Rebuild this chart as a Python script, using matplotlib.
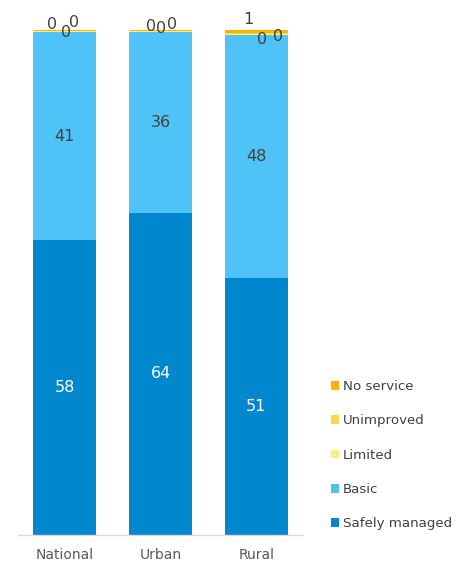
import matplotlib
matplotlib.use("Agg")
import matplotlib.pyplot as plt
import numpy as np

categories = ["National", "Urban", "Rural"]
safely_managed = [58.4, 63.8, 50.9]
basic = [41.2, 35.9, 48.2]
limited = [0.2, 0.1, 0.1]
unimproved = [0.1, 0.1, 0.2]
no_service = [0.1, 0.1, 0.6]

series = [
    ("Safely managed", safely_managed, "#0087CE", "white"),
    ("Basic", basic, "#4FC3F7", "#404040"),
    ("Limited", limited, "#FFF176", "#404040"),
    ("Unimproved", unimproved, "#FFD54F", "#404040"),
    ("No service", no_service, "#FFB300", "#404040"),
]

# manual nudges (points) for the crowded small labels at the top
small_offsets = {
    "Limited": [(-9.4, 5), (-6.5, 3.6), (4.3, -3.6)],
    "Unimproved": [(0.7, -1.4), (0.7, 1.4), (16, -2)],
    "No service": [(6.5, 5.8), (8, 4.3), (-5.8, 8.6)],
}

fig = plt.figure(figsize=(4.66, 5.67), dpi=100)
fig.set_facecolor("white")
ax = fig.add_axes([18 / 466, 32 / 567, 285 / 466, 505 / 567])

x = np.arange(len(categories))
bottom = np.zeros(len(categories))
handles = []
for name, vals, color, tcolor in series:
    vals = np.array(vals, dtype=float)
    bars = ax.bar(x, vals, 0.66, bottom=bottom, color=color, label=name)
    handles.append(bars)
    for i, v in enumerate(vals):
        yc = bottom[i] + v / 2
        if name in small_offsets:
            dx, dy = small_offsets[name][i]
        else:
            dx, dy = 0, 0
        ax.annotate(f"{v:.0f}", (x[i], yc), xytext=(dx, dy),
                    textcoords="offset points", ha="center", va="center",
                    fontsize=11.5, color=tcolor, annotation_clip=False)
    bottom += vals

ax.set_xlim(-0.49, 2.49)
ax.set_ylim(0, 100)
ax.set_xticks(x)
ax.set_xticklabels(categories, fontsize=10, color="#595959")
ax.tick_params(axis="x", length=0, pad=9.5)
ax.set_yticks([])
for s in ["top", "right", "left"]:
    ax.spines[s].set_visible(False)
ax.spines["bottom"].set_color("#d9d9d9")
ax.spines["bottom"].set_linewidth(1)

leg = fig.legend(handles[::-1], [s[0] for s in series][::-1],
                 loc="upper left", bbox_to_anchor=(319 / 466, 1 - 368 / 567),
                 frameon=False, fontsize=9.6, handlelength=0.6, handleheight=0.6,
                 handletextpad=0.3, labelspacing=1.6)
for t in leg.get_texts():
    t.set_color("#404040")

fig.savefig("out.png", dpi=100)
